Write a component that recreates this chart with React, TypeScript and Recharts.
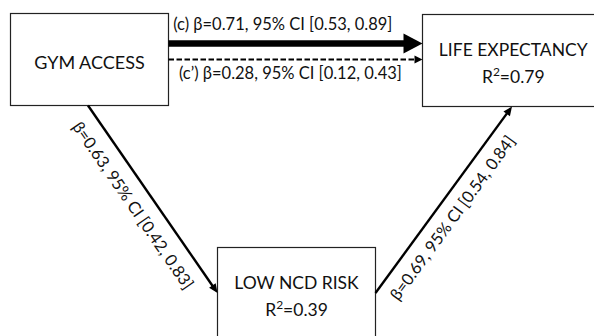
import React from "react";
import { ComposedChart, XAxis, YAxis, ReferenceArea, ReferenceLine } from "recharts";

// nodes of the mediation model
const nodeNames = ["GYM ACCESS", "LOW NCD RISK", "LIFE EXPECTANCY"];
const nodeR2: (number | null)[] = [null, 0.39, 0.79];

// paths: total effect (c), direct effect (c'), a path, b path
const pathTags = ["(c)", "(c\u2019)", "", ""];
const pathBeta = [0.71, 0.28, 0.63, 0.69];
const pathCiLow = [0.53, 0.12, 0.42, 0.54];
const pathCiHigh = [0.89, 0.43, 0.83, 0.84];

// layout, in plot units (same as pixels here)
const boxes = [
  { x1: 10.5, y1: 13.5, x2: 168.5, y2: 105.5 },
  { x1: 217.5, y1: 247.5, x2: 375.5, y2: 339.5 },
  { x1: 422.5, y1: 14.5, x2: 604, y2: 106.5 },
];

const edges = [
  { from: { x: 168.5, y: 43.5 }, to: { x: 422.5, y: 43.5 }, width: 6.5, head: 19, half: 10, dash: undefined, t: 0.45, off: 14 },
  { from: { x: 168.5, y: 59.5 }, to: { x: 422.5, y: 59.5 }, width: 2, head: 8, half: 4, dash: "5.5 2.5", t: 0.48, off: -19 },
  { from: { x: 88, y: 105.5 }, to: { x: 217.5, y: 293 }, width: 2.4, head: 9, half: 4, dash: undefined, t: 0.473, off: -25.5 },
  { from: { x: 375.5, y: 293 }, to: { x: 512, y: 106.5 }, width: 2.4, head: 9, half: 4, dash: undefined, t: 0.459, off: -23.5 },
];

const FONT = "Lato, 'Liberation Sans', sans-serif";

const pathLabel = (i: number) =>
  `${pathTags[i] ? pathTags[i] + " " : ""}\u03b2=${pathBeta[i].toFixed(2)}, 95% CI [${pathCiLow[i].toFixed(
    2
  )}, ${pathCiHigh[i].toFixed(2)}]`;

const NodeBox = (props: any, i: number) => {
  const { x, y, width, height } = props;
  const cx = x + width / 2;
  const cy = y + height / 2;
  const r2 = nodeR2[i];
  return (
    <g>
      <rect x={x} y={y} width={width} height={height} fill="#fff" stroke="#222" strokeWidth={1.2} />
      {r2 == null ? (
        <text x={cx} y={cy + 9} textAnchor="middle" fontFamily={FONT} fontSize={18} fill="#111">
          {nodeNames[i]}
        </text>
      ) : (
        <text textAnchor="middle" fontFamily={FONT} fontSize={17.5} fill="#111">
          <tspan x={cx} y={cy - 5}>
            {nodeNames[i]}
          </tspan>
          <tspan x={cx} y={cy + 22}>
            R
            <tspan fontSize={12} dy={-7}>
              2
            </tspan>
            <tspan dy={7}>={r2.toFixed(2)}</tspan>
          </tspan>
        </text>
      )}
    </g>
  );
};

const Arrow = (props: any, i: number) => {
  const { x1, y1, x2, y2 } = props;
  const e = edges[i];
  const dx = x2 - x1;
  const dy = y2 - y1;
  const len = Math.sqrt(dx * dx + dy * dy);
  const ux = dx / len;
  const uy = dy / len;
  const bx = x2 - ux * e.head;
  const by = y2 - uy * e.head;
  const nx = -uy;
  const ny = ux;
  // text goes on the side given by off, measured along the text's "up" direction
  const upx = uy;
  const upy = -ux;
  const px = x1 + dx * e.t + upx * e.off;
  const py = y1 + dy * e.t + upy * e.off;
  const angle = (Math.atan2(dy, dx) * 180) / Math.PI;
  return (
    <g>
      <line
        x1={x1}
        y1={y1}
        x2={bx + ux * 0.5}
        y2={by + uy * 0.5}
        stroke="#000"
        strokeWidth={e.width}
        strokeDasharray={e.dash}
      />
      <polygon
        points={`${x2},${y2} ${bx + nx * e.half},${by + ny * e.half} ${bx - nx * e.half},${by - ny * e.half}`}
        fill="#000"
      />
      <text
        x={px}
        y={py}
        textAnchor="middle"
        fontFamily={FONT}
        fontSize={16.5}
        fill="#111"
        transform={`rotate(${angle} ${px} ${py})`}
      >
        {pathLabel(i)}
      </text>
    </g>
  );
};

export default function App() {
  return (
    <div style={{ position: "absolute", left: 0, top: 0, width: 594, height: 336, background: "#fff" }}>
      <ComposedChart width={594} height={336} margin={{ top: 0, right: 0, bottom: 0, left: 0 }} data={[]}>
        <XAxis type="number" dataKey="x" domain={[0, 594]} allowDataOverflow hide />
        <YAxis type="number" dataKey="y" domain={[0, 336]} allowDataOverflow reversed hide />
        {boxes.map((b, i) => (
          <ReferenceArea
            key={`box-${i}`}
            x1={b.x1}
            x2={b.x2}
            y1={b.y1}
            y2={b.y2}
            ifOverflow="visible"
            shape={(p: any) => NodeBox(p, i)}
          />
        ))}
        {edges.map((e, i) => (
          <ReferenceLine
            key={`edge-${i}`}
            segment={[e.from, e.to]}
            ifOverflow="visible"
            shape={(p: any) => Arrow(p, i)}
          />
        ))}
      </ComposedChart>
    </div>
  );
}
